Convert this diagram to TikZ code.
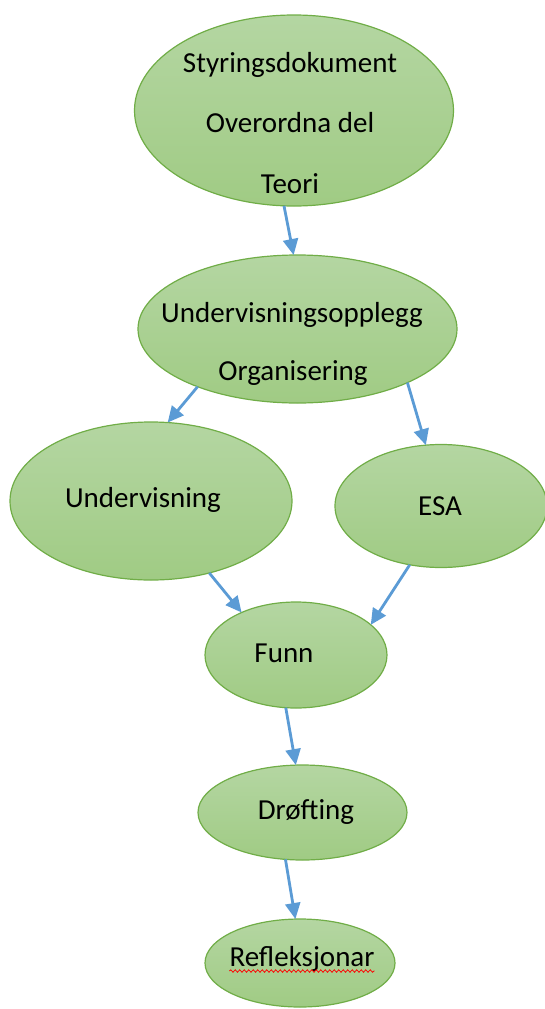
\documentclass[tikz,border=0pt]{standalone}
\usepackage{fontspec}
\setmainfont{Carlito}
\usetikzlibrary{shapes.geometric,arrows.meta,decorations.pathmorphing}
\definecolor{leaftop}{RGB}{180,214,162}
\definecolor{leafbot}{RGB}{160,203,132}
\definecolor{leafline}{RGB}{112,173,71}
\definecolor{arrowblue}{RGB}{91,155,213}
\begin{document}
\begin{tikzpicture}[x=1pt,y=-1pt,
	blob/.style={ellipse,draw=leafline,line width=1.2pt,top color=leaftop,bottom color=leafbot,inner sep=0pt,outer sep=0pt},
	word/.style={anchor=base,inner sep=0pt,font=\fontsize{29}{29}\selectfont},
	flow/.style={draw=arrowblue,line width=2.8pt,-{Triangle[width=15pt,length=16pt]}}]
	\useasboundingbox (0,0) rectangle (544,1009);

	\node[blob,minimum width=319pt,minimum height=191pt] (styr) at (294,110.5) {};
	\node[blob,minimum width=319pt,minimum height=148pt] (plan) at (297.5,329) {};
	\node[blob,minimum width=282pt,minimum height=158pt] (underv) at (151,501) {};
	\node[blob,minimum width=212pt,minimum height=123pt] (esa) at (441,506) {};
	\node[blob,minimum width=182pt,minimum height=106pt] (funn) at (296,655) {};
	\node[blob,minimum width=209pt,minimum height=95pt] (drof) at (302.5,812.5) {};
	\node[blob,minimum width=190pt,minimum height=88pt] (refl) at (300,963) {};

	\node[word] (styr1) at (290,72) {Styringsdokument};
	\node[word] (styr2) at (290,132.5) {Overordna del};
	\node[word] (styr3) at (290,193) {Teori};
	\node[word] (plan1) at (292,322) {Undervisningsopplegg};
	\node[word] (plan2) at (293,380) {Organisering};
	\node[word] (undervt) at (143,507) {Undervisning};
	\node[word] (esat) at (440,515) {ESA};
	\node[word] (funnt) at (284,662) {Funn};
	\node[word] (droft) at (306,819) {Drøfting};
	\node[word] (reflt) at (302,966) {Refleksjonar};

	\draw[red,line width=0.8pt,decorate,decoration={snake,amplitude=1.2pt,segment length=4.5pt}]
		([yshift=-5pt]reflt.base west) -- ([yshift=-5pt]reflt.base east);

	\draw[flow] (styr.-96.6) -- (plan.93.4);
	\draw[flow] (plan.-150) -- (underv.78.7);
	\draw[flow] (plan.-26.3) -- (esa.104.5);
	\draw[flow] (underv.-51.9) -- (funn.142.7);
	\draw[flow] (esa.-118.4) -- (funn.22.8);
	\draw[flow] (funn.-101.7) -- (drof.98.8);
	\draw[flow] (drof.-110.2) -- (refl.96.3);
\end{tikzpicture}
\end{document}
